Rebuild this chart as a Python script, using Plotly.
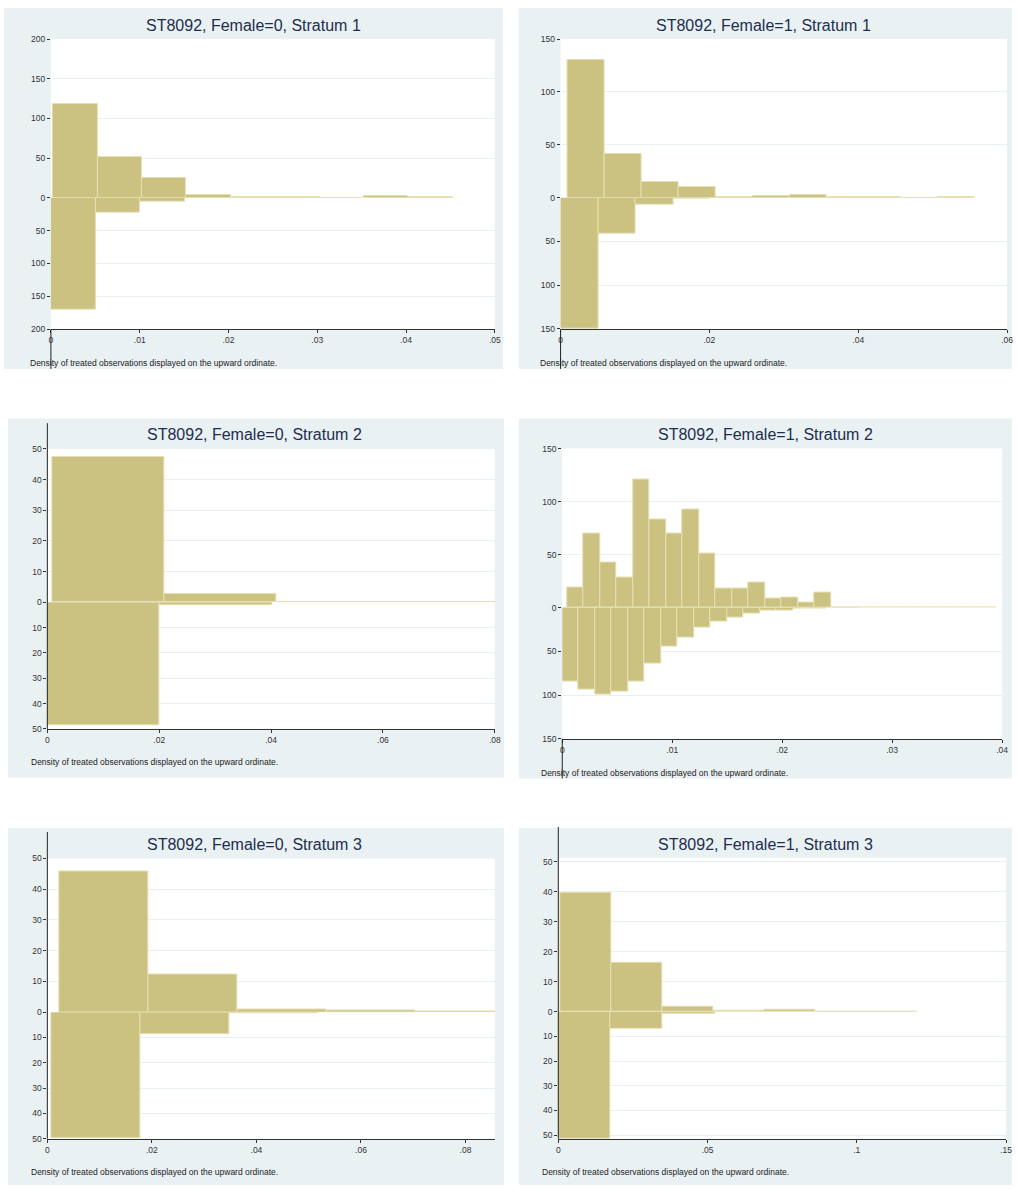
import plotly.graph_objects as go

W, H = 1018, 1191

# ---------------- data ----------------
titles = [
    "ST8092, Female=0, Stratum 1",
    "ST8092, Female=1, Stratum 1",
    "ST8092, Female=0, Stratum 2",
    "ST8092, Female=1, Stratum 2",
    "ST8092, Female=0, Stratum 3",
    "ST8092, Female=1, Stratum 3",
]
note_text = "Density of treated observations displayed on the upward ordinate."

# Panel 1: Female=0, Stratum 1
p1_treated_start, p1_treated_width = 0.00026, 0.005
p1_treated = [118.5, 51.3, 25.2, 3.4, 1.0, 0.3, 0.2, 1.5, 0.5]
p1_control_start, p1_control_width = 0.0, 0.00503
p1_control = [169.5, 22.5, 5.5, 0.5]
p1_xticks = [0, 0.01, 0.02, 0.03, 0.04, 0.05]
p1_xlabels = ["0", ".01", ".02", ".03", ".04", ".05"]
p1_yticks_up = [0, 50, 100, 150, 200]
p1_yticks_down = [50, 100, 150, 200]

# Panel 2: Female=1, Stratum 1
p2_treated_start, p2_treated_width = 0.00089, 0.00498
p2_treated = [130, 41.3, 15, 10, 0.6, 1.3, 2.5, 0.5, 0.5, 0.0, 1.0]
p2_control_start, p2_control_width = 0.0, 0.00505
p2_control = [150, 41, 8, 1.0]
p2_xticks = [0, 0.02, 0.04, 0.06]
p2_xlabels = ["0", ".02", ".04", ".06"]
p2_yticks_up = [0, 50, 100, 150]
p2_yticks_down = [50, 100, 150]

# Panel 3: Female=0, Stratum 2
p3_treated_start, p3_treated_width = 0.00095, 0.0200
p3_treated = [47.4, 2.8, 0.1, 0.1]
p3_control_start, p3_control_width = 0.0, 0.0201
p3_control = [48.7, 1.3]
p3_xticks = [0, 0.02, 0.04, 0.06, 0.08]
p3_xlabels = ["0", ".02", ".04", ".06", ".08"]
p3_yticks_up = [0, 10, 20, 30, 40, 50]
p3_yticks_down = [10, 20, 30, 40, 50]

# Panel 4: Female=1, Stratum 2
p4_treated_start, p4_treated_width = 0.00045, 0.0015
p4_treated = [18.8, 69.7, 42.2, 28.1, 120.3, 83.1, 69.7, 92.5, 50.9, 18.1,
              18.1, 23.4, 8.8, 9.1, 5.0, 14.1, 0.4, 0.3, 0.2, 0.2, 0.1, 0.1,
              0.1, 0.1, 0.1, 0.1]
p4_control_start, p4_control_width = 0.0, 0.0015
p4_control = [84.8, 93.6, 99.2, 95.5, 84.8, 64.0, 44.7, 34.8, 22.7, 15.9,
              11.0, 6.4, 3.8, 3.0, 1.5, 0.8, 0.4, 0.3]
p4_xticks = [0, 0.01, 0.02, 0.03, 0.04]
p4_xlabels = ["0", ".01", ".02", ".03", ".04"]
p4_yticks_up = [0, 50, 100, 150]
p4_yticks_down = [50, 100, 150]

# Panel 5: Female=0, Stratum 3
p5_treated_start, p5_treated_width = 0.00234, 0.01703
p5_treated = [45.9, 12.4, 0.75, 0.4, 0.1]
p5_control_start, p5_control_width = 0.0007, 0.01703
p5_control = [49.9, 8.5, 0.4]
p5_xticks = [0, 0.02, 0.04, 0.06, 0.08]
p5_xlabels = ["0", ".02", ".04", ".06", ".08"]
p5_yticks_up = [0, 10, 20, 30, 40, 50]
p5_yticks_down = [10, 20, 30, 40, 50]

# Panel 6: Female=1, Stratum 3
p6_treated_start, p6_treated_width = 0.00078, 0.01707
p6_treated = [39.7, 16.2, 1.8, 0.45, 0.8, 0.1, 0.1]
p6_control_start, p6_control_width = 0.0, 0.0175
p6_control = [51.5, 6.7, 0.9]
p6_xticks = [0, 0.05, 0.1, 0.15]
p6_xlabels = ["0", ".05", ".1", ".15"]
p6_yticks_up = [0, 10, 20, 30, 40, 50]
p6_yticks_down = [10, 20, 30, 40, 50]

panels_data = [
    (p1_treated_start, p1_treated_width, p1_treated, p1_control_start, p1_control_width, p1_control,
     p1_xticks, p1_xlabels, p1_yticks_up, p1_yticks_down),
    (p2_treated_start, p2_treated_width, p2_treated, p2_control_start, p2_control_width, p2_control,
     p2_xticks, p2_xlabels, p2_yticks_up, p2_yticks_down),
    (p3_treated_start, p3_treated_width, p3_treated, p3_control_start, p3_control_width, p3_control,
     p3_xticks, p3_xlabels, p3_yticks_up, p3_yticks_down),
    (p4_treated_start, p4_treated_width, p4_treated, p4_control_start, p4_control_width, p4_control,
     p4_xticks, p4_xlabels, p4_yticks_up, p4_yticks_down),
    (p5_treated_start, p5_treated_width, p5_treated, p5_control_start, p5_control_width, p5_control,
     p5_xticks, p5_xlabels, p5_yticks_up, p5_yticks_down),
    (p6_treated_start, p6_treated_width, p6_treated, p6_control_start, p6_control_width, p6_control,
     p6_xticks, p6_xlabels, p6_yticks_up, p6_yticks_down),
]

# ---------------- geometry / style (pixels) ----------------
geom = [
    dict(bg=(2, 3, 505, 367), px=(49.3, 496.7), top=34.3, zero=194.3, bottom=327.0,
         title=(253, 21), note=(26.7, 361), xr=0.05, yu=200, yd=200, vline=(49.3, 327, 367)),
    dict(bg=(521, 3, 1018, 367), px=(563.0, 1013.0), top=34.3, zero=194.3, bottom=326.7,
         title=(768, 21), note=(540, 361), xr=0.06, yu=150, yd=150, vline=(563.0, 327, 367)),
    dict(bg=(6, 417, 506, 779), px=(45.7, 496.7), top=447.7, zero=602.3, bottom=730.0,
         title=(255, 433), note=(27, 763), xr=0.08, yu=50, yd=50, vline=(45.7, 421.7, 730)),
    dict(bg=(521, 417, 1018, 780), px=(564.7, 1008.0), top=447.3, zero=607.7, bottom=740.0,
         title=(769.7, 433.3), note=(541, 774), xr=0.04, yu=150, yd=150, vline=(564.7, 740, 780)),
    dict(bg=(6, 830, 506, 1190), px=(45.7, 496.7), top=860.7, zero=1015.7, bottom=1143.3,
         title=(255, 846.7), note=(27, 1176.7), xr=0.0856, yu=50, yd=50, vline=(45.7, 834, 1143.3)),
    dict(bg=(521, 830, 1018, 1190), px=(560.7, 1012.0), top=860.0, zero=1015.3, bottom=1143.3,
         title=(769.7, 846.7), note=(542, 1176.7), xr=0.15, yu=51.4, yd=51.5, vline=(560.7, 829, 1143.3)),
]

FONT = "Liberation Sans, Arial, Helvetica, sans-serif"
BG = "#EAF1F3"
BAR = "#CBC282"
BAR_LINE = "#E5DFB2"
GRID = "#E9F0F2"
TITLE_C = "#1E2D4E"
TICK_C = "#333333"


def fx(x):
    return x / W


def fy(y):
    return 1 - y / H


def centers(start, width, n):
    return [start + width * (i + 0.5) for i in range(n)]


fig = go.Figure()
layout = dict(
    width=W, height=H, margin=dict(l=0, r=0, t=0, b=0, pad=0),
    paper_bgcolor="white", plot_bgcolor="rgba(0,0,0,0)",
    showlegend=False, bargap=0, barmode="overlay",
    font=dict(family=FONT, size=9, color=TICK_C),
)
shapes = []
annotations = []

for i, (data, g) in enumerate(zip(panels_data, geom)):
    ts, tw, tv, cs, cw, cv, xt, xl, ytu, ytd = data
    a = 2 * i + 1
    b = 2 * i + 2
    xa, ya = f"x{a}", f"y{a}"
    xb, yb = f"x{b}", f"y{b}"
    xdom = [fx(g["px"][0]), fx(g["px"][1])]

    x0, y0, x1, y1 = g["bg"]
    shapes.append(dict(type="rect", xref="paper", yref="paper", x0=fx(x0), x1=fx(x1),
                       y0=fy(y1), y1=fy(y0), fillcolor=BG, line=dict(width=0), layer="below"))
    shapes.append(dict(type="rect", xref="paper", yref="paper", x0=xdom[0], x1=xdom[1],
                       y0=fy(g["bottom"]), y1=fy(g["top"]), fillcolor="white",
                       line=dict(width=0), layer="below"))

    fig.add_trace(go.Bar(
        x=centers(ts, tw, len(tv)), y=tv, width=[tw] * len(tv),
        xaxis=xa, yaxis=ya, marker=dict(color=BAR, line=dict(color=BAR_LINE, width=1)),
        hoverinfo="skip", showlegend=False))
    fig.add_trace(go.Bar(
        x=centers(cs, cw, len(cv)), y=cv, width=[cw] * len(cv),
        xaxis=xb, yaxis=yb, marker=dict(color=BAR, line=dict(color=BAR_LINE, width=1)),
        hoverinfo="skip", showlegend=False))

    axis_common = dict(fixedrange=True, zeroline=False)
    layout["xaxis" + ("" if a == 1 else str(a))] = dict(
        domain=xdom, range=[0, g["xr"]], anchor=ya, visible=False, showgrid=False, **axis_common)
    layout["yaxis" + ("" if a == 1 else str(a))] = dict(
        domain=[fy(g["zero"]), fy(g["top"])], range=[0, g["yu"]], anchor=xa,
        tickvals=ytu, ticktext=[str(v) for v in ytu], ticks="outside", ticklen=3,
        tickcolor=TICK_C, tickwidth=1, tickfont=dict(size=8.5, color=TICK_C, family=FONT),
        showgrid=True, gridcolor=GRID, gridwidth=1, showline=False, **axis_common)
    layout["xaxis" + str(b)] = dict(
        domain=xdom, range=[0, g["xr"]], anchor=yb,
        tickvals=xt, ticktext=xl, ticks="outside", ticklen=3, tickcolor=TICK_C,
        tickfont=dict(size=8.5, color=TICK_C, family=FONT),
        showline=True, linecolor=TICK_C, linewidth=1, showgrid=False, **axis_common)
    layout["yaxis" + str(b)] = dict(
        domain=[fy(g["bottom"]), fy(g["zero"])], range=[g["yd"], 0], anchor=xb,
        tickvals=ytd, ticktext=[str(v) for v in ytd], ticks="outside", ticklen=3,
        tickcolor=TICK_C, tickwidth=1, tickfont=dict(size=8.5, color=TICK_C, family=FONT),
        showgrid=True, gridcolor=GRID, gridwidth=1, showline=False, **axis_common)

    vx, vy0, vy1 = g["vline"]
    shapes.append(dict(type="line", xref="paper", yref="paper", x0=fx(vx), x1=fx(vx),
                       y0=fy(vy1), y1=fy(vy0), line=dict(color="#222222", width=1), layer="above"))

    annotations.append(dict(text=titles[i], xref="paper", yref="paper",
                            x=fx(g["title"][0]), y=fy(g["title"][1]),
                            xanchor="center", yanchor="middle", showarrow=False,
                            font=dict(size=16, color=TITLE_C, family=FONT)))
    annotations.append(dict(text=note_text, xref="paper", yref="paper",
                            x=fx(g["note"][0]), y=fy(g["note"][1]),
                            xanchor="left", yanchor="middle", showarrow=False,
                            font=dict(size=8.5, color="#222222", family=FONT)))

layout["shapes"] = shapes
layout["annotations"] = annotations
fig.update_layout(**layout)
fig.write_html(
    "out.html",
    config={"displayModeBar": False},
    post_script="document.body.style.margin='0';document.body.style.overflow='hidden';",
)
